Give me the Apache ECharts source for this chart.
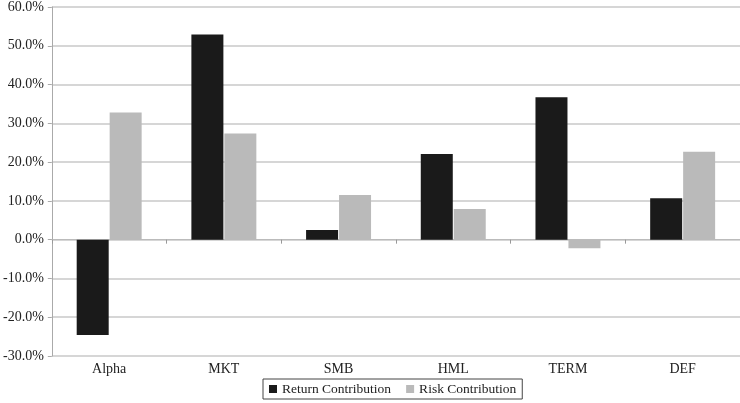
<!DOCTYPE html>
<html><head><meta charset="utf-8">
<script src="https://cdn.jsdelivr.net/npm/echarts@6/dist/echarts.min.js"></script>
<style>html,body{margin:0;padding:0;background:#fff}#c{width:740px;height:403px}</style>
</head><body><div id="c"></div>
<script>
const categories = ['Alpha', 'MKT', 'SMB', 'HML', 'TERM', 'DEF'];
const returnContribution = [-24.6, 52.9, 2.5, 22.1, 36.7, 10.7];
const riskContribution = [32.8, 27.4, 11.5, 7.9, -2.2, 22.7];
const seriesNames = ['Return Contribution', 'Risk Contribution'];

const font = 'Liberation Serif, Times New Roman, serif';
const chart = echarts.init(document.getElementById('c'));
chart.setOption({
  animation: false,
  grid: { left: 51, right: 0, top: 5, bottom: 47 },
  legend: {
    top: 379, left: 263,
    data: seriesNames,
    itemWidth: 8, itemHeight: 8, itemGap: 15,
    icon: 'rect',
    borderColor: '#444', borderWidth: 1,
    padding: [3, 6, 3, 6],
    textStyle: { fontFamily: font, fontSize: 13.5, color: '#222' }
  },
  xAxis: [{
    type: 'category', data: categories,
    axisLine: { show: false, onZero: false },
    axisTick: { show: false },
    axisLabel: { fontFamily: font, fontSize: 14, color: '#222', margin: 6 }
  }, {
    type: 'category', data: categories, position: 'bottom',
    axisLine: { show: true, onZero: true, lineStyle: { color: '#bbb', width: 1 } },
    axisTick: { show: true, length: 4, lineStyle: { color: '#999' } },
    axisLabel: { show: false }
  }],
  yAxis: {
    type: 'value', min: -30, max: 60, interval: 10,
    axisLine: { show: true, lineStyle: { color: '#aaa' } },
    axisTick: { show: true, length: 4, lineStyle: { color: '#aaa' } },
    splitLine: { lineStyle: { color: '#c8c8c8', width: 1.5 } },
    axisLabel: { fontFamily: font, fontSize: 14, color: '#222', margin: 8,
      formatter: v => v.toFixed(1) + '%' }
  },
  series: [{
    name: seriesNames[0], type: 'bar', data: returnContribution,
    barWidth: 32, barGap: '3%',
    itemStyle: { color: '#1a1a1a' }
  }, {
    name: seriesNames[1], type: 'bar', data: riskContribution,
    barWidth: 32, barGap: '3%',
    itemStyle: { color: '#bababa' }
  }]
});
</script></body></html>
